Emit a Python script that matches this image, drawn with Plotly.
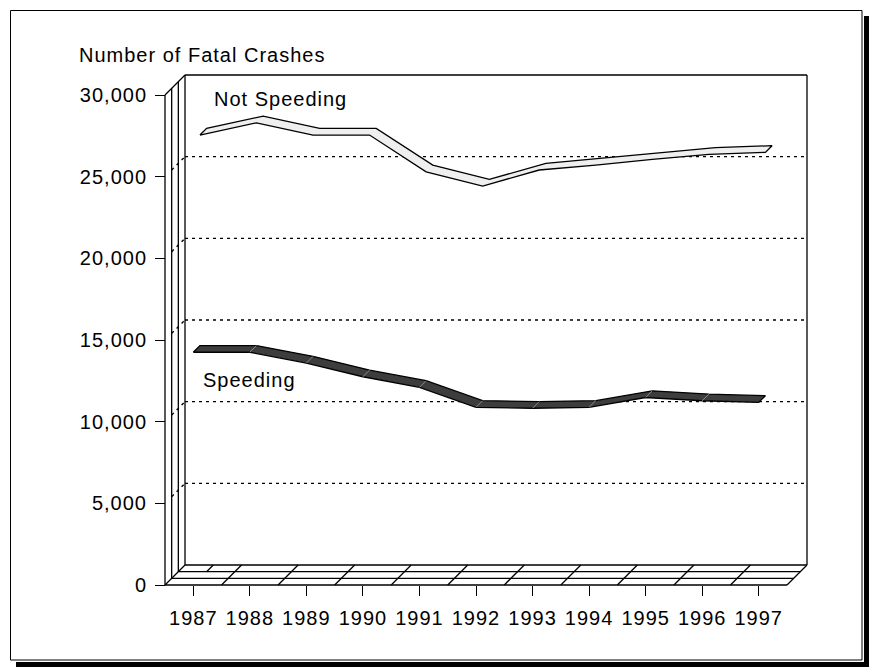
import plotly.graph_objects as go

# ---- data -------------------------------------------------------------
years = ["1987", "1988", "1989", "1990", "1991", "1992",
         "1993", "1994", "1995", "1996", "1997"]
not_speeding = [27140, 27890, 27140, 27140, 24890, 24020,
                25000, 25300, 25650, 25960, 26080]
speeding = [14250, 14250, 13590, 12750, 12100, 10880,
            10820, 10880, 11480, 11280, 11180]
y_ticks = [0, 5000, 10000, 15000, 20000, 25000, 30000]
y_tick_labels = ["0", "5,000", "10,000", "15,000", "20,000", "25,000", "30,000"]
grid_values = [5000, 10000, 15000, 20000, 25000]

# ---- pseudo-3D box geometry (pixels) ----------------------------------
W, H = 869, 667
LEFT, RIGHT, TOP, BOTTOM = 165, 807, 75, 585
DEPTH_PX = 20
PAD = 4
YMAX = 30000
n = len(years)

px_per_x = (RIGHT - DEPTH_PX - LEFT) / n
px_per_y = (BOTTOM - (TOP + DEPTH_PX)) / YMAX
DX = DEPTH_PX / px_per_x          # depth offset in category units
DY = DEPTH_PX / px_per_y          # depth offset in value units
X0 = -0.5
X1 = X0 + n

plot_w = RIGHT - LEFT + 2 * PAD
plot_h = BOTTOM - TOP + 2 * PAD

LW = 1.3


def px_x(p):
    return (p - (LEFT - PAD)) / plot_w


def px_y(q):
    return ((BOTTOM + PAD) - q) / plot_h


def at(x, v, d):
    return x + d * DX, v + d * DY


def spaced(s):
    return '<span style="letter-spacing:1px">' + s + '</span>'


FONT = "Liberation Sans, Arial, Helvetica, sans-serif"

fig = go.Figure()


def add_segments(segs, color="black", width=LW, dash=None):
    xs, ys = [], []
    for (a, b) in segs:
        xs += [a[0], b[0], None]
        ys += [a[1], b[1], None]
    fig.add_trace(go.Scatter(
        x=xs, y=ys, mode="lines", hoverinfo="skip", showlegend=False,
        line=dict(color=color, width=width, dash=dash)))


# dotted gridlines on the back wall and their diagonals on the side wall
grid = []
for v in grid_values:
    grid.append((at(X0, v, 1), at(X1, v, 1)))
    grid.append((at(X0, v, 1 / 3), at(X0, v, 1)))
add_segments(grid, width=1.4, dash="3px,4px")

# side wall, back wall and floor
frame = []
for d in (0, 1 / 3, 2 / 3, 1):
    frame.append((at(X0, 0, d), at(X0, YMAX, d)))       # side wall verticals
    frame.append((at(X0, 0, d), at(X1, 0, d)))          # floor rails
frame.append((at(X0, YMAX, 0), at(X0, YMAX, 1)))
frame.append((at(X0, 0, 0), at(X0, 0, 1)))
frame.append((at(X0, YMAX, 1), at(X1, YMAX, 1)))         # back wall top
frame.append((at(X1, YMAX, 1), at(X1, 0, 1)))            # back wall right
frame.append((at(X1, 0, 0), at(X1, 0, 1)))
for i in range(n - 1):
    frame.append((at(i + 0.5, 0, 0), at(i + 0.5, 0, 1)))  # floor dividers
frame.append((at(0, 0, 2 / 3), at(0, 0, 1)))
add_segments(frame)


# ribbons
def ribbon(values, d0, thick, fill, joint_color=None):
    xs_f, ys_f = zip(*[at(i, v, d0) for i, v in enumerate(values)])
    xs_b, ys_b = zip(*[at(i, v, d0 + thick) for i, v in enumerate(values)])
    xs = list(xs_f) + list(xs_b)[::-1] + [xs_f[0]]
    ys = list(ys_f) + list(ys_b)[::-1] + [ys_f[0]]
    fig.add_trace(go.Scatter(
        x=xs, y=ys, mode="lines", fill="toself", fillcolor=fill,
        line=dict(color="black", width=LW), hoverinfo="skip", showlegend=False))
    if joint_color:
        add_segments([(at(i, values[i], d0), at(i, values[i], d0 + thick))
                      for i in range(1, n - 1)], color=joint_color, width=1)


ribbon(not_speeding, 1 / 3, 1 / 3, "#efefef")
ribbon(speeding, 0, 1 / 3, "#3d3d3d", joint_color="#8c8c8c")

# ---- outer frame with drop shadow -------------------------------------
shapes = [
    dict(type="rect", xref="paper", yref="paper", layer="below",
         x0=px_x(864), x1=px_x(870), y0=px_y(16), y1=px_y(668),
         fillcolor="black", line=dict(width=0)),
    dict(type="rect", xref="paper", yref="paper", layer="below",
         x0=px_x(16), x1=px_x(870), y0=px_y(662), y1=px_y(668),
         fillcolor="black", line=dict(width=0)),
    dict(type="rect", xref="paper", yref="paper", layer="below",
         x0=px_x(10.5), x1=px_x(862), y0=px_y(660), y1=px_y(10.5),
         fillcolor="white", line=dict(color="black", width=1)),
]

annotations = [
    dict(text=spaced("Number of Fatal Crashes"), xref="paper", yref="paper",
         x=px_x(77), y=px_y(55), xanchor="left", yanchor="middle",
         showarrow=False, font=dict(family=FONT, size=20, color="black")),
    dict(text=spaced("Not Speeding"), xref="paper", yref="paper",
         x=px_x(212), y=px_y(99), xanchor="left", yanchor="middle",
         showarrow=False, font=dict(family=FONT, size=20, color="black")),
    dict(text=spaced("Speeding"), xref="paper", yref="paper",
         x=px_x(201), y=px_y(380), xanchor="left", yanchor="middle",
         showarrow=False, font=dict(family=FONT, size=20, color="black")),
]

fig.update_layout(
    width=W, height=H,
    margin=dict(l=LEFT - PAD, r=W - RIGHT - PAD, t=TOP - PAD, b=H - BOTTOM - PAD),
    paper_bgcolor="white", plot_bgcolor="rgba(0,0,0,0)",
    showlegend=False, shapes=shapes, annotations=annotations,
    font=dict(family=FONT, size=20, color="black"),
    xaxis=dict(range=[X0 - PAD / px_per_x, X1 + DX + PAD / px_per_x],
               anchor="free", position=PAD / plot_h,
               tickmode="array", tickvals=list(range(n)),
               ticktext=[spaced(y) for y in years],
               ticks="outside", ticklen=10, tickcolor="black", tickwidth=1.3,
               ticklabelstandoff=5,
               showgrid=False, zeroline=False, showline=False,
               tickfont=dict(family=FONT, size=20, color="black")),
    yaxis=dict(range=[-PAD / px_per_y, YMAX + DY + PAD / px_per_y],
               anchor="free", position=PAD / plot_w,
               tickmode="array", tickvals=y_ticks,
               ticktext=[spaced(t) for t in y_tick_labels],
               ticks="outside", ticklen=10, tickcolor="black", tickwidth=1.3,
               ticklabelstandoff=4,
               showgrid=False, zeroline=False, showline=False,
               tickfont=dict(family=FONT, size=20, color="black")),
)

fig.write_html("out.html")
